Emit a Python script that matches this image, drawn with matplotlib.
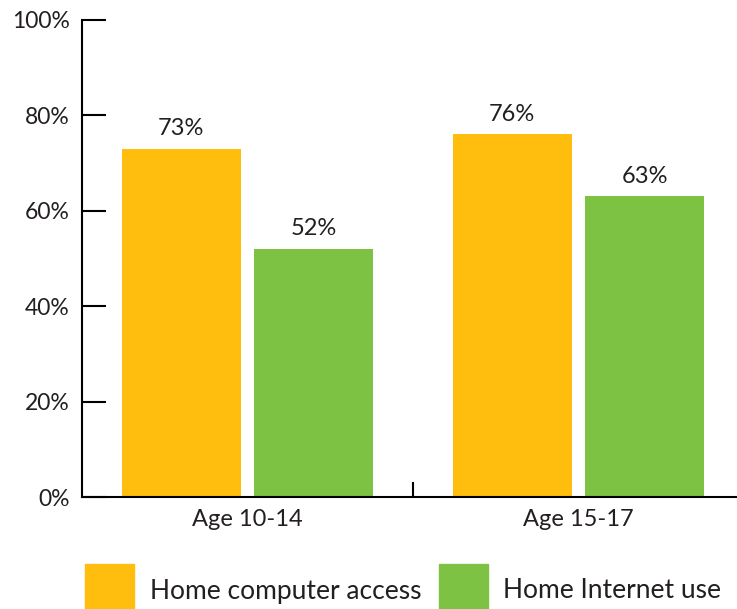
import matplotlib
matplotlib.use("Agg")
import matplotlib.pyplot as plt
from matplotlib.patches import Rectangle
import numpy as np

categories = ["Age 10-14", "Age 15-17"]
series_names = ["Home computer access", "Home Internet use"]
computer = [73, 76]
internet = [52, 63]
yticks = [0, 20, 40, 60, 80, 100]
ytick_labels = ["0%", "20%", "40%", "60%", "80%", "100%"]

YELLOW = "#FFBE0E"
GREEN = "#7DC242"
TXT = "#231F20"

plt.rcParams['font.family'] = ['Lato', 'DejaVu Sans']

fig = plt.figure(figsize=(7.37, 6.09), dpi=100)
ax = fig.add_axes([82/737, 1-497/609, 662/737, 477/609])

x = np.arange(len(categories))
w = 0.36
off = 0.2
b1 = ax.bar(x - off, computer, w, color=YELLOW)
b2 = ax.bar(x + off, internet, w, color=GREEN)
for bars, vals in ((b1, computer), (b2, internet)):
    for b, v in zip(bars, vals):
        ax.text(b.get_x() + b.get_width()/2, v + 2.0, f"{v}%", ha="center", va="bottom",
                fontsize=17, color=TXT)

ax.set_xlim(-0.5, 1.5)
ax.set_ylim(0, 100)
ax.set_yticks(yticks)
ax.set_yticklabels(ytick_labels, fontsize=16.5, color=TXT)
ax.tick_params(axis="y", direction="in", length=17, width=1.5, pad=9)
ax.set_xticks([0.5], minor=False)
ax.set_xticklabels([""])
ax.tick_params(axis="x", direction="in", length=11, width=1.5)
for i, c in enumerate(categories):
    ax.text(x[i], -2.6, c, ha="center", va="top", fontsize=17, color=TXT,
            transform=ax.transData)
for s in ("top", "right"):
    ax.spines[s].set_visible(False)
for s in ("left", "bottom"):
    ax.spines[s].set_linewidth(1.5)
    ax.spines[s].set_color("black")

# legend
leg = [(85, YELLOW, 150, series_names[0]), (439, GREEN, 503, series_names[1])]
for px, col, tx, lab in leg:
    fig.patches.append(Rectangle((px/737, 0), 49/737, 45/609, transform=fig.transFigure,
                                 color=col))
    fig.text(tx/737, 1-591/609, lab, ha="left", va="center", fontsize=19, color=TXT)

fig.savefig("out.png", dpi=100)
